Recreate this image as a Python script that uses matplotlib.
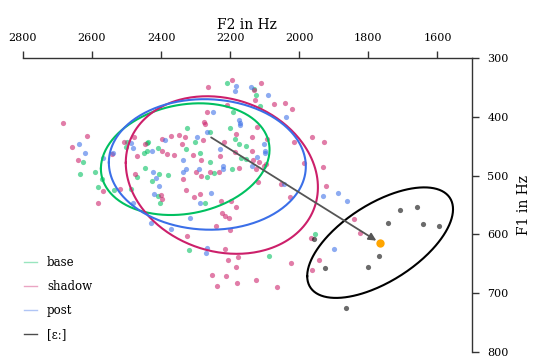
import numpy as np
import matplotlib

matplotlib.use("Agg")
import matplotlib.pyplot as plt
from matplotlib.lines import Line2D

plt.rcParams["font.family"] = ["DejaVu Serif"]

# F2 / F1 values in Hz
base_f2 = [2625, 2635, 2590, 2583, 2570, 2536, 2501, 2498, 2487, 2469, 2441, 2439,
           2450, 2440, 2447, 2426, 2407, 2410, 2402, 2410, 2380, 2325, 2329, 2303,
           2286, 2267, 2247, 2259, 2272, 2258, 2209, 2131, 2124, 2115, 2191, 2200,
           2185, 2174, 2155, 2169, 2155, 2196, 2320, 2088, 1955]
base_f1 = [476, 498, 494, 519, 506, 525, 451, 443, 522, 503, 444, 442,
           461, 458, 487, 509, 497, 535, 547, 453, 499, 419, 455, 443,
           462, 503, 495, 477, 547, 426, 342, 353, 363, 381, 392, 419,
           437, 446, 449, 470, 471, 488, 626, 637, 599]

post_f2 = [2637, 2621, 2567, 2539, 2486, 2480, 2482, 2426, 2423, 2415, 2405, 2421,
           2389, 2297, 2337, 2329, 2336, 2290, 2221, 2221, 2256, 2286, 2229, 2251,
           2268, 2184, 2186, 2139, 2089, 2174, 2172, 2172, 2039, 2121, 2098, 2099,
           2101, 2138, 2317, 2370, 2429, 2267, 2269, 2043, 1932, 1887, 1861, 1899]
post_f1 = [446, 462, 470, 462, 445, 453, 547, 458, 493, 504, 518, 532,
           440, 434, 474, 489, 493, 489, 484, 489, 530, 546, 454, 392,
           426, 347, 356, 349, 363, 406, 411, 414, 400, 469, 462, 458,
           446, 484, 572, 590, 580, 623, 631, 515, 534, 529, 544, 624]

shadow_f2 = [2683, 2614, 2657, 2640, 2568, 2581, 2520, 2541, 2506, 2477, 2469, 2474,
             2447, 2396, 2372, 2349, 2397, 2382, 2362, 2339, 2331, 2279, 2308, 2284,
             2400, 2397, 2336, 2299, 2285, 2259, 2232, 2327, 2305, 2287, 2230, 2217,
             2268, 2277, 2272, 2264, 2196, 2132, 2112, 2127, 2073, 2040, 2021, 2210,
             2123, 2184, 2138, 2185, 2137, 2134, 2117, 2094, 2102, 2096, 2126, 2175,
             2120, 2198, 2184, 2226, 2223, 2215, 2203, 2242, 2200, 2324, 2216, 2177,
             2205, 2026, 2053, 2014, 1964, 1928, 1987, 1930, 1924, 1841, 1967, 1823,
             2182, 2253, 2211, 2179, 2239, 2124, 2064, 2023, 1944, 1962]
shadow_f1 = [411, 433, 452, 473, 527, 547, 522, 464, 443, 435, 466, 498,
             447, 438, 433, 431, 458, 463, 465, 446, 434, 440, 465, 473,
             533, 540, 506, 494, 501, 494, 493, 525, 536, 531, 466, 442,
             391, 408, 413, 349, 337, 354, 343, 372, 379, 377, 387, 380,
             417, 430, 434, 460, 458, 474, 477, 437, 483, 480, 488, 487,
             510, 543, 553, 543, 564, 568, 572, 585, 593, 603, 624, 639,
             643, 537, 514, 443, 434, 442, 479, 485, 517, 574, 606, 598,
             656, 669, 671, 682, 688, 677, 690, 648, 643, 660]

target_f2 = [1957, 1925, 1866, 1802, 1768, 1744, 1709, 1658, 1643, 1595]
target_f1 = [608, 657, 725, 656, 636, 581, 559, 553, 583, 585]

# ellipse: centre F2, centre F1, spread F2, spread F1, correlation
ellipses = {
    "base": (2330, 472, 244, 95, 0.17),
    "shadow": (2224, 499, 278, 134, -0.155),
    "post": (2266, 481, 285, 111, -0.03),
    "[ɛː]": (1766, 614, 211, 94, 0.605),
}

arrow_start = (2255, 435)

colors = {"base": "#00c060", "shadow": "#cc1f6a", "post": "#3b6fe8", "[ɛː]": "#000000"}

fig = plt.figure(figsize=(5.33, 3.56), dpi=100)
ax = fig.add_axes([0.0428, 0.0112, 0.8428, 0.8258])

groups = [("base", base_f2, base_f1), ("shadow", shadow_f2, shadow_f1),
          ("post", post_f2, post_f1), ("[ɛː]", target_f2, target_f1)]
for name, f2, f1 in groups:
    ax.scatter(f2, f1, s=14, color=colors[name], alpha=0.58, linewidths=0, zorder=2)

t = np.linspace(0, 2 * np.pi, 300)
for name, (cx, cy, sx, sy, r) in ellipses.items():
    ex = cx + sx * np.cos(t)
    ey = cy + sy * (r * np.cos(t) + np.sqrt(1 - r ** 2) * np.sin(t))
    ax.plot(ex, ey, color=colors[name], lw=1.5, zorder=3)

mean_f2 = np.mean(target_f2)
mean_f1 = np.mean(target_f1)
ax.annotate("", xy=(mean_f2, mean_f1), xytext=arrow_start,
            arrowprops=dict(arrowstyle="-|>", color="#555555", lw=1.3,
                            mutation_scale=11, shrinkA=0, shrinkB=3), zorder=4)
ax.scatter([mean_f2], [mean_f1], s=36, color="#ffa500", linewidths=0, zorder=5)

ax.set_xlim(2800, 1500)
ax.set_ylim(800, 300)
ax.set_xticks([2800, 2600, 2400, 2200, 2000, 1800, 1600])
ax.set_yticks([300, 400, 500, 600, 700, 800])
ax.xaxis.tick_top()
ax.xaxis.set_label_position("top")
ax.yaxis.tick_right()
ax.yaxis.set_label_position("right")
ax.spines["left"].set_visible(False)
ax.spines["bottom"].set_visible(False)
for s in ("top", "right"):
    ax.spines[s].set_color("#333333")
    ax.spines[s].set_linewidth(1.0)
ax.tick_params(length=5, width=1.0, color="#333333", labelsize=8)
ax.tick_params(axis="x", pad=6)
ax.tick_params(axis="y", pad=6)
ax.set_xlabel("F2 in Hz", fontsize=10, labelpad=3)
ax.set_ylabel("F1 in Hz", fontsize=10, labelpad=6)

handles = [Line2D([], [], color=colors[n], alpha=0.4 if n != "[ɛː]" else 0.7, lw=1)
           for n, _, _ in groups]
ax.legend(handles, [n for n, _, _ in groups], loc="lower left", frameon=False,
          fontsize=8.5, handlelength=1.1, labelspacing=0.95,
          bbox_to_anchor=(-0.02, 0.0))

fig.savefig("out.png", dpi=100)
